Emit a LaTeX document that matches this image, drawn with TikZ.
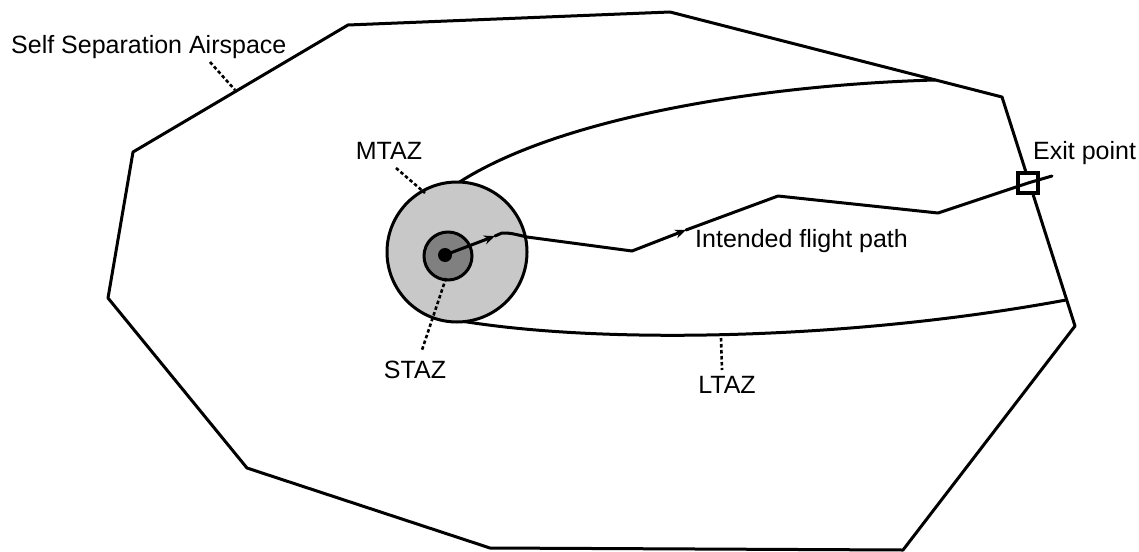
\documentclass[tikz,border=0pt]{standalone}
\usepackage{fontspec}
\setmainfont{Liberation Sans}
\usetikzlibrary{arrows.meta}
\definecolor{mtazgray}{RGB}{200,200,200}
\definecolor{stazgray}{RGB}{128,128,128}
\begin{document}
\begin{tikzpicture}[x=1pt,y=-1pt,
  lbl/.style={inner sep=0pt,font=\fontsize{25}{28}\selectfont},
  edge/.style={line width=3pt,line join=round,line cap=round},
  leader/.style={line width=2.6pt,dash pattern=on 3.5pt off 2.5pt},
  tip/.style={-{Stealth[length=11pt,width=9pt]}}]
\useasboundingbox (0,0) rectangle (1139,551);
% airspace polygon
\coordinate (p1) at (133,152);
\coordinate (p2) at (348,25);
\coordinate (p3) at (670,12);
\coordinate (p4) at (1002,97);
\coordinate (p5) at (1075,326);
\coordinate (p6) at (903,550);
\coordinate (p7) at (490,548);
\coordinate (p8) at (247,468);
\coordinate (p9) at (108,298);
\draw[edge] (p1) -- (p2) -- (p3) -- (p4) -- (p5) -- (p6) -- (p7) -- (p8) -- (p9) -- cycle;
% LTAZ boundaries
\coordinate (u0) at (455,185);
\coordinate (u1) at (935,80);
\coordinate (l0) at (455,320);
\coordinate (l1) at (1066,300);
\draw[edge] (u0) .. controls (555,118) and (760,85) .. (u1);
\draw[edge] (l0) .. controls (600,345) and (850,340) .. (l1);
% MTAZ and STAZ
\node[circle,draw,edge,fill=mtazgray,minimum size=140pt,inner sep=0pt] (mtaz) at (457,252) {};
\node[circle,draw,edge,fill=stazgray,minimum size=48pt,inner sep=0pt] (staz) at (448,256) {};
\node[circle,fill=black,minimum size=14pt,inner sep=0pt] (dot) at (445,255) {};
% flight path
\coordinate (f1) at (495,236);
\coordinate (f2) at (502,233);
\coordinate (f3) at (527,237);
\coordinate (f4) at (632,251);
\coordinate (f5) at (686,230);
\coordinate (f6) at (778,196);
\coordinate (f7) at (938,213);
\node[draw,line width=2.6pt,fill=white,minimum size=18pt,inner sep=0pt] (exit) at (1028,183) {};
\coordinate (f9) at (1052,176);
\draw[edge,tip] (dot.center) -- (f1);
\draw[edge] (f1) -- (f2) .. controls (510,233) .. (f3) -- (f4);
\draw[edge,tip] (f4) -- (f5);
\draw[edge] (f5) -- (f6) -- (f7) -- (exit.center) -- (f9);
\draw[line width=2.6pt] (exit.north west) rectangle (exit.south east);
% labels
\node[lbl,anchor=base west] (ssa) at (11,53) {Self Separation Airspace};
\node[lbl,anchor=base] (mtazl) at (389,159) {MTAZ};
\node[lbl,anchor=base] (stazl) at (415,378) {STAZ};
\node[lbl,anchor=base] (ltazl) at (727,393) {LTAZ};
\node[lbl,anchor=base west] (ifp) at (695,247) {Intended flight path};
\node[lbl,anchor=base west] (exitl) at (1033,159) {Exit point};
% leaders
\coordinate (s1) at (210,62);
\coordinate (s2) at (235,90);
\draw[leader] (s1) -- (s2);
\coordinate (m1) at (396,168);
\coordinate (m2) at (425,193);
\draw[leader] (m1) -- (m2);
\coordinate (t1) at (446,278);
\coordinate (t2) at (422,350);
\draw[leader] (t1) -- (t2);
\coordinate (k1) at (721,338);
\coordinate (k2) at (722,370);
\draw[leader] (k1) -- (k2);
\end{tikzpicture}
\end{document}
